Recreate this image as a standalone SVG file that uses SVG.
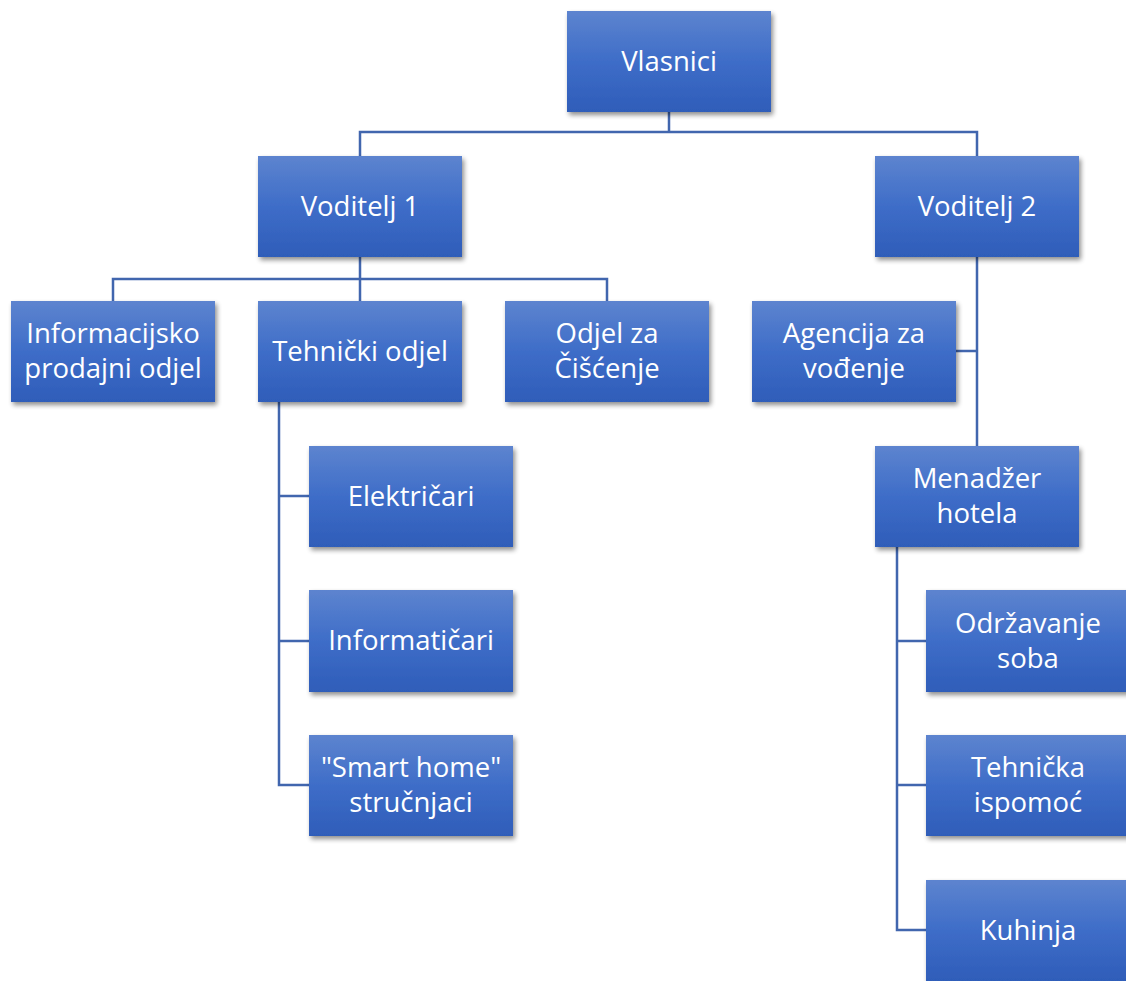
<svg xmlns="http://www.w3.org/2000/svg" width="1126" height="981" viewBox="0 0 1126 981">
<style>
.box{fill:url(#g);filter:url(#sh)}
.t{font-family:"Open Sans","Noto Sans","DejaVu Sans",sans-serif;font-size:27.5px;fill:#fff;text-anchor:middle}
.c{fill:none;stroke:#4166AE;stroke-width:2.5}
</style>
<defs>
<linearGradient id="g" x1="0" y1="0" x2="0" y2="1">
<stop offset="0" stop-color="#5D84CF"/>
<stop offset="0.5" stop-color="#3E6DC8"/>
<stop offset="1" stop-color="#2F5DB9"/>
</linearGradient>
<filter id="sh" x="-10%" y="-10%" width="125%" height="130%">
<feGaussianBlur in="SourceAlpha" stdDeviation="2.5"/>
<feOffset dx="2" dy="3" result="b"/>
<feComponentTransfer><feFuncA type="linear" slope="0.45"/></feComponentTransfer>
<feMerge><feMergeNode/><feMergeNode in="SourceGraphic"/></feMerge>
</filter>
</defs>
<g id="connectors">
<path class="c" d="M669,112V132M360,156V132H977V156"/>
<path class="c" d="M360,257V279M113,301V279H607V301M360,279V301"/>
<path class="c" d="M977,257V446M956,351H977"/>
<path class="c" d="M279,402V785H309M279,496H309M279,641H309"/>
<path class="c" d="M897,547V930H926M897,641H926M897,785H926"/>
</g>
<g id="vlasnici"><rect class="box" x="567" y="11" width="204" height="101"/><text class="t" x="669" y="71">Vlasnici</text></g>
<g id="voditelj1"><rect class="box" x="258" y="156" width="204" height="101"/><text class="t" x="360" y="216">Voditelj 1</text></g>
<g id="voditelj2"><rect class="box" x="875" y="156" width="204" height="101"/><text class="t" x="977" y="216">Voditelj 2</text></g>
<g id="informacijsko"><rect class="box" x="11" y="301" width="204" height="101"/><text class="t" x="113" y="343">Informacijsko</text><text class="t" x="113" y="378">prodajni odjel</text></g>
<g id="tehnicki"><rect class="box" x="258" y="301" width="204" height="101"/><text class="t" x="360" y="361">Tehnički odjel</text></g>
<g id="odjel"><rect class="box" x="505" y="301" width="204" height="101"/><text class="t" x="607" y="343">Odjel za</text><text class="t" x="607" y="378">Čišćenje</text></g>
<g id="agencija"><rect class="box" x="752" y="301" width="204" height="101"/><text class="t" x="854" y="343">Agencija za</text><text class="t" x="854" y="378">vođenje</text></g>
<g id="menadzer"><rect class="box" x="875" y="446" width="204" height="101"/><text class="t" x="977" y="488">Menadžer</text><text class="t" x="977" y="523">hotela</text></g>
<g id="elektricari"><rect class="box" x="309" y="446" width="204" height="101"/><text class="t" x="411" y="506">Električari</text></g>
<g id="informaticari"><rect class="box" x="309" y="590" width="204" height="102"/><text class="t" x="411" y="650">Informatičari</text></g>
<g id="smarthome"><rect class="box" x="309" y="735" width="204" height="101"/><text class="t" x="411" y="777">"Smart home"</text><text class="t" x="411" y="812">stručnjaci</text></g>
<g id="odrzavanje"><rect class="box" x="926" y="590" width="204" height="102"/><text class="t" x="1028" y="633">Održavanje</text><text class="t" x="1028" y="668">soba</text></g>
<g id="tehnicka"><rect class="box" x="926" y="735" width="204" height="101"/><text class="t" x="1028" y="777">Tehnička</text><text class="t" x="1028" y="812">ispomoć</text></g>
<g id="kuhinja"><rect class="box" x="926" y="880" width="204" height="101"/><text class="t" x="1028" y="940">Kuhinja</text></g>
</svg>
